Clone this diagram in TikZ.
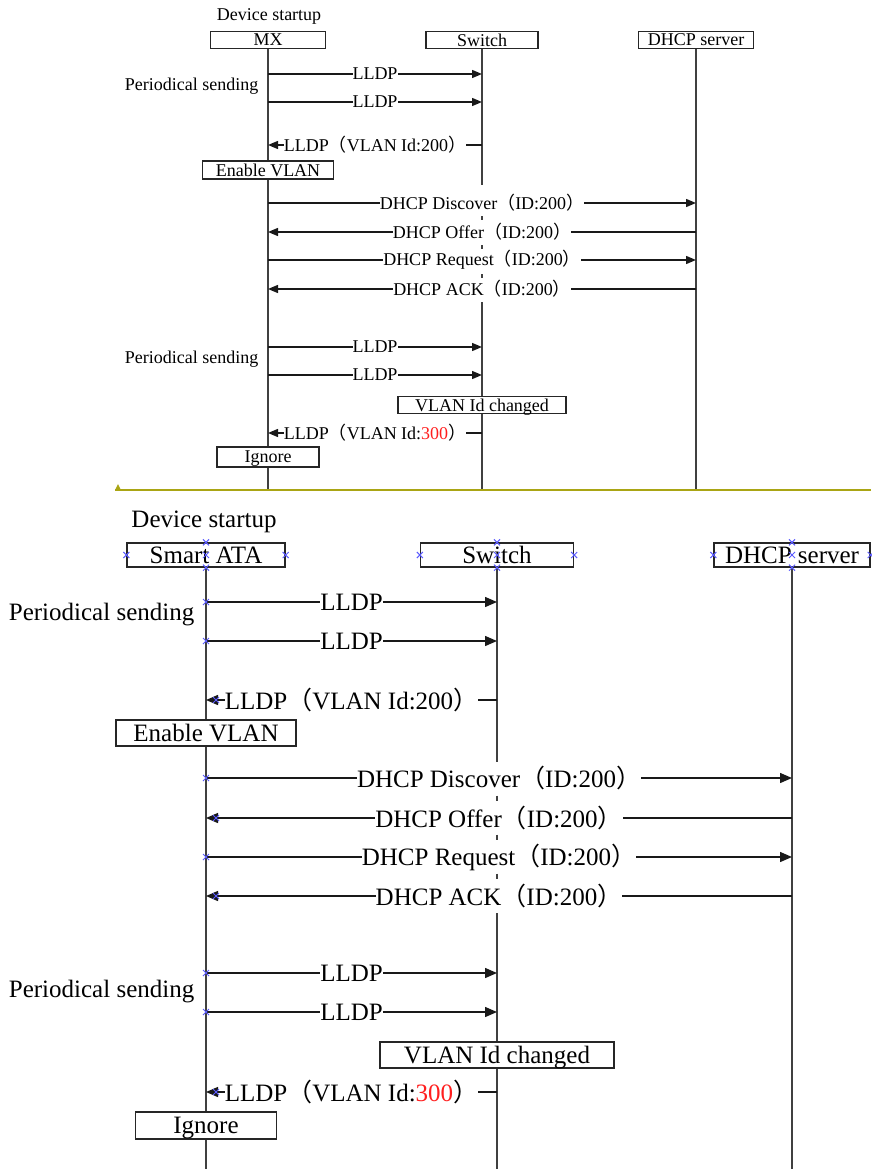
\documentclass[tikz,border=0pt]{standalone}
\usepackage{fontspec}
\setmainfont{Liberation Serif}
\newfontfamily\cjk{Noto Sans CJK SC}
\usetikzlibrary{arrows.meta}
\definecolor{cutline}{RGB}{170,165,20}
\definecolor{pinblue}{RGB}{90,90,255}
\definecolor{idred}{RGB}{255,30,30}
\newcommand{\opar}{{\cjk （}}
\newcommand{\cpar}{{\cjk ）}}
\newcommand{\xmk}[1]{\draw[xmk] #1 ++(-3,-3) -- ++(6,6) ++(-6,0) -- ++(6,-6);}

\begin{document}
\begin{tikzpicture}[
    x=1pt, y=-1pt, line width=1.4pt,
    small/.style={font=\fontsize{18}{18}\selectfont},
    big/.style={font=\fontsize{25}{25}\selectfont},
    box/.style={draw=black!85, fill=white, inner sep=0pt, minimum width=#1},
    boxA/.style={box=#1, small, minimum height=17pt},
    boxB/.style={box=#1, big, minimum height=24pt},
    life/.style={draw=black!75},
    msg/.style={draw=black!90},
    tipA/.style={-{Triangle[length=10pt,width=8pt]}},
    tipB/.style={-{Triangle[length=12pt,width=10pt]}},
    lbl/.style={fill=white, inner sep=0pt},
    xmk/.style={draw=pinblue, line width=1pt}
]
    \useasboundingbox (0,0) rectangle (871,1169);

    % upper chart
    \node[small] (startA) at (269,16) {Device startup};
    \node[boxA=115] (mx) at (268,40) {MX};
    \node[boxA=112] (swa) at (482,40) {Switch};
    \node[boxA=115] (dhcpa) at (696,40) {DHCP server};
    \coordinate (cutA) at (115,490);

    \draw[life] (mx.south) -- (mx |- cutA);
    \draw[life] (swa.south) -- (swa |- 0,185);
    \draw[life, dash pattern=on 4pt off 25pt] (swa |- 0,216) -- (swa |- 0,280);
    \draw[life] (swa |- 0,302) -- (swa |- cutA);
    \draw[life] (dhcpa.south) -- (dhcpa |- cutA);

    \node[small, anchor=east, inner sep=0pt] (sendA1) at (259,86) {Periodical sending};
    \draw[msg, tipA, small] (mx |- 0,74) -- node[lbl] {LLDP} (swa |- 0,74);
    \draw[msg, tipA, small] (mx |- 0,102) -- node[lbl] {LLDP} (swa |- 0,102);
    \draw[msg, tipA, small] (swa |- 0,145) -- node[lbl] {LLDP\opar VLAN Id:200\cpar} (mx |- 0,145);
    \node[boxA=131, minimum height=18pt] (enA) at (268,170) {Enable VLAN};

    \draw[msg, tipA, small] (mx |- 0,203) -- node[lbl] {DHCP Discover\opar ID:200\cpar} (dhcpa |- 0,203);
    \draw[msg, tipA, small] (dhcpa |- 0,232) -- node[lbl] {DHCP Offer\opar ID:200\cpar} (mx |- 0,232);
    \draw[msg, tipA, small] (mx |- 0,260) -- node[lbl] {DHCP Request\opar ID:200\cpar} (dhcpa |- 0,260);
    \draw[msg, tipA, small] (dhcpa |- 0,289) -- node[lbl] {DHCP ACK\opar ID:200\cpar} (mx |- 0,289);

    \node[small, anchor=east, inner sep=0pt] (sendA2) at (259,359) {Periodical sending};
    \draw[msg, tipA, small] (mx |- 0,347) -- node[lbl] {LLDP} (swa |- 0,347);
    \draw[msg, tipA, small] (mx |- 0,375) -- node[lbl] {LLDP} (swa |- 0,375);
    \node[boxA=168, text depth=0pt] (chgA) at (482,405) {VLAN Id changed};
    \draw[msg, tipA, small] (swa |- 0,433) -- node[lbl] {LLDP\opar VLAN Id:\textcolor{idred}{300}\cpar} (mx |- 0,433);
    \node[boxA=102, minimum height=20pt, text depth=0pt] (ignA) at (268,457) {Ignore};

    % separator
    \draw[cutline, line width=2pt] (cutA) -- (871,490);
    \fill[cutline] (cutA) -- ++(3,-6) -- ++(3,6) -- cycle;

    % lower chart
    \node[big] (startB) at (204,522) {Device startup};
    \node[boxB=158] (ata) at (206,555) {Smart ATA};
    \node[boxB=153] (swb) at (497,555) {Switch};
    \node[boxB=156] (dhcpb) at (792,555) {DHCP server};
    \coordinate (cutB) at (0,1169);

    \draw[life] (ata.south) -- (ata |- cutB);
    \draw[life] (swb.south) -- (swb |- 0,762);
    \draw[life, dash pattern=on 5pt off 34pt] (swb |- 0,795.5) -- (swb |- 0,880);
    \draw[life] (swb |- 0,913) -- (swb |- cutB);
    \draw[life] (dhcpb.south) -- (dhcpb |- cutB);

    \node[big, anchor=east, inner sep=0pt] (sendB1) at (195,615) {Periodical sending};
    \draw[msg, tipB, big] (ata |- 0,602) -- node[lbl] {LLDP} (swb |- 0,602);
    \draw[msg, tipB, big] (ata |- 0,641) -- node[lbl] {LLDP} (swb |- 0,641);
    \draw[msg, tipB, big] (swb |- 0,700) -- node[lbl] {LLDP\opar VLAN Id:200\cpar} (ata |- 0,700);
    \node[boxB=180, minimum height=26pt] (enB) at (206,733) {Enable VLAN};

    \draw[msg, tipB, big] (ata |- 0,778) -- node[lbl] {DHCP Discover\opar ID:200\cpar} (dhcpb |- 0,778);
    \draw[msg, tipB, big] (dhcpb |- 0,818) -- node[lbl] {DHCP Offer\opar ID:200\cpar} (ata |- 0,818);
    \draw[msg, tipB, big] (ata |- 0,857) -- node[lbl] {DHCP Request\opar ID:200\cpar} (dhcpb |- 0,857);
    \draw[msg, tipB, big] (dhcpb |- 0,896) -- node[lbl] {DHCP ACK\opar ID:200\cpar} (ata |- 0,896);

    \node[big, anchor=east, inner sep=0pt] (sendB2) at (195,992) {Periodical sending};
    \draw[msg, tipB, big] (ata |- 0,973) -- node[lbl] {LLDP} (swb |- 0,973);
    \draw[msg, tipB, big] (ata |- 0,1012) -- node[lbl] {LLDP} (swb |- 0,1012);
    \node[boxB=234, minimum height=26pt, text depth=0pt] (chgB) at (497,1055) {VLAN Id changed};
    \draw[msg, tipB, big] (swb |- 0,1092) -- node[lbl] {LLDP\opar VLAN Id:\textcolor{idred}{300}\cpar} (ata |- 0,1092);
    \node[boxB=141, minimum height=27pt, text depth=0pt] (ignB) at (206,1125.5) {Ignore};

    % connection points
    \foreach \n in {ata,swb,dhcpb}{
        \foreach \a in {west,east,north,center,south}{
            \xmk{(\n.\a)}
        }
    }
    \foreach \y in {602,641,778,857,973,1012}{
        \xmk{(ata |- 0,\y)}
    }
    \foreach \y in {700,818,896,1092}{
        \xmk{(216,\y)}
    }
\end{tikzpicture}
\end{document}
